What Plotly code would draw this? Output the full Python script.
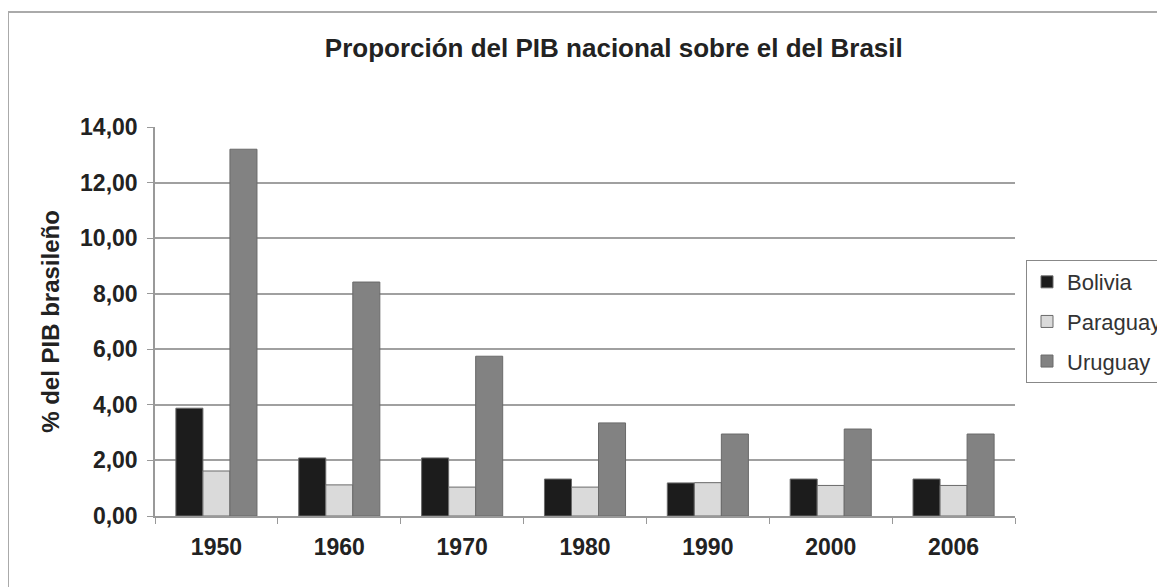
import plotly.graph_objects as go

years = ["1950", "1960", "1970", "1980", "1990", "2000", "2006"]
bolivia = [3.88, 2.09, 2.09, 1.33, 1.19, 1.33, 1.33]
paraguay = [1.62, 1.12, 1.04, 1.04, 1.20, 1.10, 1.10]
uruguay = [13.20, 8.42, 5.75, 3.35, 2.95, 3.13, 2.95]

series = [("Bolivia", bolivia, "#1c1c1c"), ("Paraguay", paraguay, "#dadada"), ("Uruguay", uruguay, "#828282")]

fig = go.Figure()
for name, vals, col in series:
    fig.add_trace(go.Bar(x=years, y=vals, name=name, legendgroup=name,
                         marker=dict(color=col, line=dict(color="#6a6a6a", width=1))))

font = "Liberation Sans, Arial, sans-serif"
fig.update_layout(
    width=1165, height=587,
    margin=dict(l=147, r=158, t=119, b=79, autoexpand=False),
    paper_bgcolor="white", plot_bgcolor="white",
    separators=",.",
    barmode="group", bargap=0.34, bargroupgap=0,
    title=dict(text="<b>Proporción del PIB nacional sobre el del Brasil</b>", x=0.52, xanchor="center",
               y=1 - 40 / 587, yanchor="middle", yref="container",
               font=dict(family=font, size=26, color="#222")),
    legend=dict(x=1.0128, y=0.658, xanchor="left", yanchor="top", bordercolor="#888", borderwidth=1,
                font=dict(family=font, size=22, color="#333"), bgcolor="white", tracegroupgap=8),
    font=dict(family=font, color="#222"),
    xaxis=dict(type="category", tickson="boundaries", ticks="outside", ticklen=6, tickcolor="#999",
               showline=True, linecolor="#999", linewidth=1.5, ticklabelstandoff=10,
               tickfont=dict(family=font, size=23, color="#222", weight="bold")),
    yaxis=dict(range=[0, 14], dtick=2, tickformat=".2f", ticks="outside", ticklen=6, tickcolor="#999",
               showline=True, linecolor="#999", linewidth=1.5, ticklabelstandoff=5,
               gridcolor="#a0a0a0", gridwidth=1.5,
               tickfont=dict(family=font, size=23, color="#222", weight="bold"),
               title=dict(text="<b>% del PIB brasileño</b>", standoff=14,
                          font=dict(family=font, size=24, color="#222"))),
)
# outer frame of the chart image
fig.add_shape(type="line", xref="paper", yref="paper", x0=-147 / 860, x1=1.25, y0=1 + 115 / 389, y1=1 + 115 / 389,
              line=dict(color="#aaa", width=2))
fig.add_shape(type="line", xref="paper", yref="paper", x0=-147 / 860, x1=-147 / 860, y0=-0.25, y1=1 + 115 / 389,
              line=dict(color="#aaa", width=2))

fig.write_html("out.html")
